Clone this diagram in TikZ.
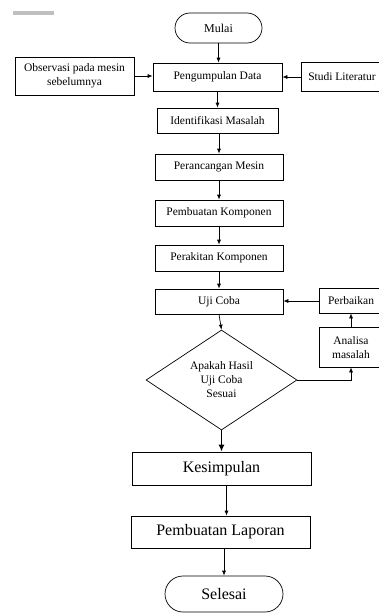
\documentclass[tikz,border=0pt]{standalone}
\usepackage{fontspec}
\setmainfont{Liberation Serif}
\usetikzlibrary{arrows.meta,shapes.geometric}
\tikzset{
  box/.style={draw=black, line width=0.7pt, rectangle, inner sep=0pt, align=center,
    font=\fontsize{11.5}{14}\selectfont},
  openbox/.style={box, draw=none},
  boxline/.style={draw=black, line width=0.7pt},
  bigbox/.style={box, font=\fontsize{16}{19}\selectfont},
  term/.style={box, rounded corners=15pt},
  decision/.style={draw=black, line width=0.7pt, diamond, inner sep=0pt, align=center,
    font=\fontsize{11.5}{14}\selectfont},
  arr/.style={draw=black, line width=0.7pt, -{Latex[length=5pt,width=4pt]}},
  thickarr/.style={draw=black, line width=1.4pt, -{Latex[length=7pt,width=6pt]}},
}
\begin{document}
\begin{tikzpicture}[x=1pt,y=-1pt]
\useasboundingbox (0,0) rectangle (379,613);
\clip (0,0) rectangle (379,613);
% grey mark top-left
\fill[black!25] (13,11) rectangle (54,15);

\node[term, minimum width=87pt, minimum height=30pt, font=\fontsize{12}{14}\selectfont] (mulai) at (218.5,28) {Mulai};
\node[box, minimum width=119pt, minimum height=38pt] (obs) at (74.5,76) {Observasi pada mesin\\sebelumnya};
\node[box, minimum width=129pt, minimum height=28pt] (peng) at (217.5,77) {Pengumpulan Data};
\node[openbox, minimum width=80pt, minimum height=28pt] (studi) at (342,77) {Studi Literatur};
\node[box, minimum width=121pt, minimum height=25pt] (ident) at (217.5,120.5) {Identifikasi Masalah};
\node[box, minimum width=128pt, minimum height=26pt] (peran) at (219,167) {Perancangan Mesin};
\node[box, minimum width=128pt, minimum height=26pt] (pemb) at (219,213) {Pembuatan Komponen};
\node[box, minimum width=128pt, minimum height=26pt] (perak) at (219,258) {Perakitan Komponen};
\node[box, minimum width=128pt, minimum height=25pt] (uji) at (219,301.5) {Uji Coba};
\node[openbox, minimum width=62pt, minimum height=24pt] (perb) at (351,301) {Perbaikan};
\node[openbox, minimum width=62pt, minimum height=39pt] (anal) at (351,347.5) {Analisa\\masalah};
\node[decision, minimum width=151pt, minimum height=100pt] (dec) at (221.5,380) {Apakah Hasil\\Uji Coba\\Sesuai};
\node[bigbox, minimum width=179pt, minimum height=33pt] (kesim) at (221.5,468.5) {Kesimpulan};
\node[bigbox, minimum width=179pt, minimum height=32pt] (lapor) at (220.5,532) {Pembuatan Laporan};
\node[term, rounded corners=18pt, minimum width=118pt, minimum height=36pt, font=\fontsize{16}{19}\selectfont] (selesai) at (224,594) {Selesai};

% boxes running off the right edge (no right border visible)
\draw[boxline] ([xshift=20pt]studi.north east) -| (studi.south west) -- ([xshift=20pt]studi.south east);
\draw[boxline] ([xshift=20pt]perb.north east) -| (perb.south west) -- ([xshift=20pt]perb.south east);
\draw[boxline] ([xshift=20pt]anal.north east) -| (anal.south west) -- ([xshift=20pt]anal.south east);

\draw[arr] (mulai.south) -- (mulai.south |- peng.north);
\draw[arr] (obs.east) -- (obs.east -| peng.west);
\draw[arr] (studi.west) -- (studi.west -| peng.east);
\draw[arr] (peng.south) -- (peng.south |- ident.north);
\draw[arr] (ident.south) ++(1.5,0) coordinate (c1) -- (c1 |- peran.north);
\draw[arr] (peran.south) -- (peran.south |- pemb.north);
\draw[arr] (pemb.south) -- (pemb.south |- perak.north);
\draw[arr] (perak.south) -- (perak.south |- uji.north);
\draw[arr] (uji.south) -- (dec.north);
\draw[arr] (perb.west) -- (perb.west -| uji.east);
\draw[arr] (anal.north) -- (perb.south);
\draw[arr] (dec.east) -| (anal.south);
\draw[thickarr] (dec.south) -- (dec.south |- kesim.north);
\draw[arr] (kesim.south) ++(5,0) coordinate (c2) -- (c2 |- lapor.north);
\draw[arr] (lapor.south) ++(3.5,0) coordinate (c3) -- (c3 |- selesai.north);
\end{tikzpicture}
\end{document}
